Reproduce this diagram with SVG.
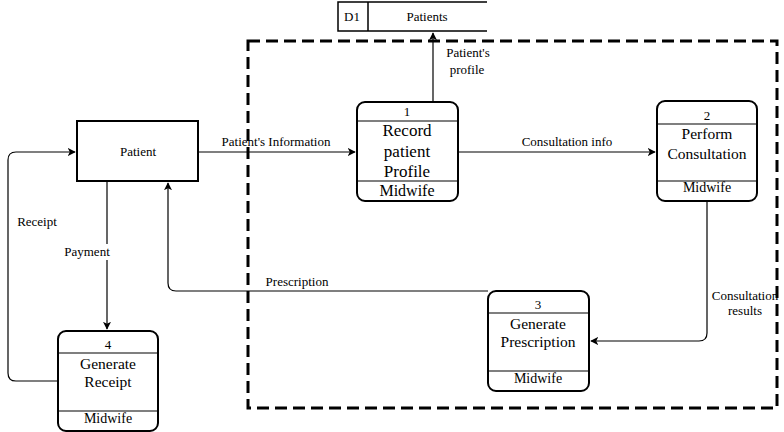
<svg xmlns="http://www.w3.org/2000/svg" width="784" height="432" viewBox="0 0 784 432">
<style>
text{font-family:"Liberation Serif","Times New Roman",serif;fill:#000;text-anchor:middle}
.lbl{font-size:13px}
.proc rect{fill:#fff;stroke:#000;stroke-width:2}
.proc line{stroke:#000;stroke-width:1.2}
.pt{font-size:15.5px}
.pn{font-size:13px}
.pm{font-size:14px}
.conn{fill:none;stroke:#000;stroke-width:1.2}
</style>
<defs>
<marker id="arr" viewBox="0 0 10 10" refX="9" refY="5" markerWidth="8" markerHeight="8" orient="auto" markerUnits="userSpaceOnUse">
<path d="M0,0 L10,5 L0,10 L2.5,5 Z" fill="#000"/>
</marker>
</defs>
<rect id="boundary" x="248" y="41" width="529" height="367" fill="none" stroke="#000" stroke-width="3" stroke-dasharray="12 6"/>
<g id="D1">
<path d="M487,2 L338,2 L338,31 L487,31 M368,2 L368,31" fill="none" stroke="#000" stroke-width="1.5"/>
<text class="lbl" x="352" y="21">D1</text>
<text class="lbl" x="427" y="21">Patients</text>
</g>
<g id="connectors">
<path class="conn" d="M198,152 L355,152" marker-end="url(#arr)"/>
<path class="conn" d="M458,152 L655,152" marker-end="url(#arr)"/>
<path class="conn" d="M433,101 L433,33" marker-end="url(#arr)"/>
<path class="conn" d="M707,201 L707,333 Q707,341 699,341 L591,341" marker-end="url(#arr)"/>
<path class="conn" d="M488,291 L176,291 Q168,291 168,283 L168,183" marker-end="url(#arr)"/>
<path class="conn" d="M107,181 L107,329" marker-end="url(#arr)"/>
<path class="conn" d="M58,381 L16,381 Q8,381 8,373 L8,160 Q8,152 16,152 L75,152" marker-end="url(#arr)"/>
<text class="lbl" x="276" y="146">Patient's Information</text>
<text class="lbl" x="567" y="146">Consultation info</text>
<text class="lbl" x="468" y="57">Patient's</text>
<text class="lbl" x="467" y="74">profile</text>
<text class="lbl" x="745" y="300">Consultation</text>
<text class="lbl" x="745" y="315">results</text>
<text class="lbl" x="297" y="286">Prescription</text>
<rect x="62" y="244" width="50" height="16" fill="#fff"/>
<text class="lbl" x="87" y="256">Payment</text>
<text class="lbl" x="37" y="226">Receipt</text>
</g>
<g id="patient">
<rect x="77" y="121" width="121" height="60" fill="#fff" stroke="#000" stroke-width="2"/>
<text class="lbl" x="138" y="156">Patient</text>
</g>
<g id="p1" class="proc">
<rect x="357" y="102" width="101" height="99" rx="8"/>
<line x1="357" y1="121" x2="458" y2="121"/>
<line x1="357" y1="181" x2="458" y2="181"/>
<text class="pn" x="407" y="116">1</text>
<text x="407" y="136" style="font-size:17px">Record</text>
<text x="407" y="157" style="font-size:17px">patient</text>
<text x="407" y="177" style="font-size:17px">Profile</text>
<text x="407" y="196" style="font-size:16px">Midwife</text>
</g>
<g id="p2" class="proc">
<rect x="657" y="101" width="100" height="100" rx="8"/>
<line x1="657" y1="124" x2="757" y2="124"/>
<line x1="657" y1="181" x2="757" y2="181"/>
<text class="pn" x="707" y="120">2</text>
<text class="pt" x="707" y="139">Perform</text>
<text class="pt" x="707" y="159">Consultation</text>
<text class="pm" x="707" y="192">Midwife</text>
</g>
<g id="p3" class="proc">
<rect x="488" y="291" width="101" height="100" rx="8"/>
<line x1="488" y1="313" x2="589" y2="313"/>
<line x1="488" y1="371" x2="589" y2="371"/>
<text class="pn" x="538" y="309">3</text>
<text class="pt" x="538" y="329">Generate</text>
<text class="pt" x="538" y="347">Prescription</text>
<text class="pm" x="538" y="383">Midwife</text>
</g>
<g id="p4" class="proc">
<rect x="58" y="331" width="100" height="100" rx="8"/>
<line x1="58" y1="353" x2="158" y2="353"/>
<line x1="58" y1="411" x2="158" y2="411"/>
<text class="pn" x="108" y="349">4</text>
<text class="pt" x="108" y="369">Generate</text>
<text class="pt" x="108" y="387">Receipt</text>
<text class="pm" x="108" y="423">Midwife</text>
</g>
</svg>
